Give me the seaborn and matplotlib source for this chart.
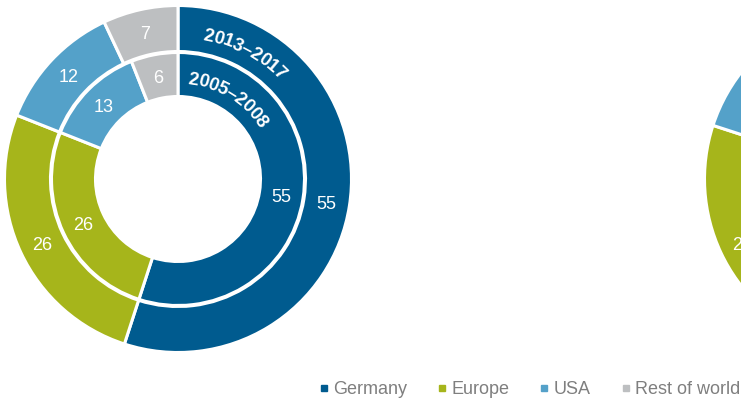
import numpy as np
import matplotlib
matplotlib.use("Agg")
import matplotlib.pyplot as plt
import seaborn as sns
from matplotlib.lines import Line2D
from matplotlib.textpath import TextToPath
from matplotlib.font_manager import FontProperties

# Shares of sales by region (percent)
regions = ["Germany", "Europe", "USA", "Rest of world"]
share_2013_2017 = [55, 26, 12, 7]
share_2005_2008 = [55, 26, 13, 6]
share_second_outer = [56, 24, 13, 7]
period_outer = "2013–2017"
period_inner = "2005–2008"

palette = sns.color_palette(["#005b8f", "#a6b51b", "#54a1c9", "#bdbfc1"])

sns.set_theme(style="white")
plt.rcParams["font.family"] = ["Liberation Sans", "DejaVu Sans"]

W, H = 741, 401
fig = plt.figure(figsize=(W / 100, H / 100), dpi=100)
ax = fig.add_axes([0, 0, 1, 1])

R_OUT, W_OUT = 173.5, 46.0
R_IN, W_IN = 126.5, 44.0
LEFT_CENTER = (178, 222)
RIGHT_CENTER = (878, 222)


def ring(center, values, radius, width):
    wedges, _ = ax.pie(values, colors=palette, startangle=90, counterclock=False,
                       radius=radius, center=center, frame=True,
                       wedgeprops=dict(width=width, edgecolor="white", linewidth=2.2))
    for w, v in zip(wedges, values):
        t = np.deg2rad((w.theta1 + w.theta2) / 2)
        r = w.r - w.width / 2
        x, y = center[0] + r * np.cos(t), center[1] + r * np.sin(t)
        if x > W + 5:
            continue  # label lies outside the figure
        ax.text(x, y, str(v), color="white", fontsize=13,
                ha="center", va="center_baseline")
    return wedges


ttp = TextToPath()
bold = FontProperties(family="Liberation Sans", weight="bold", size=13.3)


def text_width(s):
    if not s:
        return 0.0
    w, _, _ = ttp.get_text_width_height_descent(s, bold, ismath=False)
    return w * 100 / 72


def arc_text(text, center, r, mid_deg):
    total = text_width(text)
    start = np.deg2rad(mid_deg) + (total / 2) / r
    for i, ch in enumerate(text):
        s = (text_width(text[:i]) + text_width(text[:i + 1])) / 2
        th = start - s / r
        ax.text(center[0] + r * np.cos(th), center[1] + r * np.sin(th), ch,
                rotation=np.rad2deg(th) - 90, rotation_mode="anchor",
                ha="center", va="center_baseline", color="white",
                fontproperties=bold)


ring(LEFT_CENTER, share_2013_2017, R_OUT, W_OUT)
ring(LEFT_CENTER, share_2005_2008, R_IN, W_IN)
arc_text(period_outer, LEFT_CENTER, 148, 62)
arc_text(period_inner, LEFT_CENTER, 102, 58)

ring(RIGHT_CENTER, share_second_outer, R_OUT, W_OUT)

ax.set_xlim(0, W)
ax.set_ylim(0, H)
ax.set_aspect("equal")
ax.axis("off")

handles = [Line2D([], [], marker="s", linestyle="", markersize=3.8, color=c)
           for c in palette]
leg = fig.legend(handles, regions, ncol=4, loc="center right",
                 bbox_to_anchor=(740 / W, 11 / H), frameon=False,
                 fontsize=13, handlelength=0.5, handletextpad=0.25,
                 columnspacing=1.7, borderpad=0, borderaxespad=0)
for t in leg.get_texts():
    t.set_color("#7f7f7f")

fig.savefig("out.png", dpi=100)
